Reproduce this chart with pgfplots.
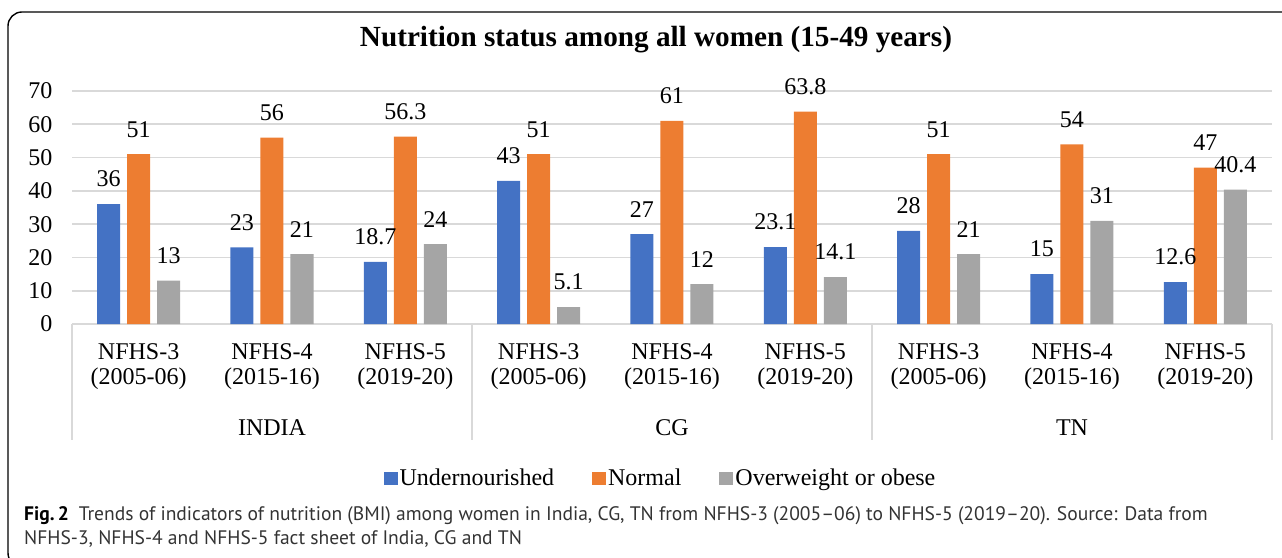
\documentclass[border=0pt]{standalone}
\usepackage{fontspec}
\setmainfont{Liberation Serif}
\newfontfamily\capfont{PT Sans}
\usepackage{pgfplots}
\pgfplotsset{compat=1.18}
\definecolor{cblue}{HTML}{4472C4}
\definecolor{corange}{HTML}{ED7D31}
\definecolor{cgray}{HTML}{A5A5A5}
\definecolor{cgrid}{HTML}{D9D9D9}
\definecolor{captext}{HTML}{333333}
\begin{document}
\begin{tikzpicture}
\useasboundingbox (0,0) rectangle (1282pt,557pt);
\begin{scope}
\clip (0,0) rectangle (1282pt,557pt);
\draw[line width=1.4pt, rounded corners=14pt] (8pt,-10pt) rectangle (1320pt,545pt);
\end{scope}
\node[font=\fontsize{29.2}{33}\selectfont\bfseries] at (656pt,517pt) {Nutrition status among all women (15-49 years)};
\begin{axis}[
  at={(72pt,233pt)}, anchor=south west,
  scale only axis, width=1200pt, height=233pt,
  xmin=-0.5, xmax=8.5, ymin=0, ymax=70,
  ytick={0,10,...,70},
  xtick={0,...,8},
  xticklabels={{NFHS-3\\(2005-06)},{NFHS-4\\(2015-16)},{NFHS-5\\(2019-20)},{NFHS-3\\(2005-06)},{NFHS-4\\(2015-16)},{NFHS-5\\(2019-20)},{NFHS-3\\(2005-06)},{NFHS-4\\(2015-16)},{NFHS-5\\(2019-20)}},
  xticklabel style={align=center, font=\fontsize{24}{25}\selectfont, anchor=north, yshift=-16pt},
  yticklabel style={font=\fontsize{24}{29}\selectfont, anchor=east, xshift=-16pt},
  /pgf/number format/assume math mode=true,
  major tick length=0pt,
  axis line style={draw=none},
  ymajorgrids, grid style={cgrid, line width=1.6pt},
  ybar, bar width=23pt,
  clip=false,
  nodes near coords,
  every node near coord/.append style={font=\fontsize{24}{29}\selectfont, anchor=center, yshift=25pt, inner sep=0pt},
  legend style={draw=none, at={(0.4904,-0.661)}, anchor=center, legend columns=3, font=\fontsize{24}{29}\selectfont, /tikz/every even column/.append style={column sep=36pt}},
  legend image code/.code={\fill[#1] (0pt,-6.5pt) rectangle (14pt,6.5pt);},
]
\addplot[fill=cblue, draw=none, bar shift=-30pt] coordinates {(0,36) (1,23) (2,18.7) (3,43) (4,27) (5,23.1) (6,28) (7,15) (8,12.6)};
\addplot[fill=corange, draw=none, bar shift=0pt] coordinates {(0,51) (1,56) (2,56.3) (3,51) (4,61) (5,63.8) (6,51) (7,54) (8,47)};
\addplot[fill=cgray, draw=none, bar shift=30pt] coordinates {(0,13) (1,21) (2,24) (3,5.1) (4,12) (5,14.1) (6,21) (7,31) (8,40.4)};
\legend{Undernourished, Normal, Overweight or obese}
\draw[cgrid, line width=1.6pt] (axis cs:-0.5,0) -- ([yshift=-116pt]axis cs:-0.5,0);
\draw[cgrid, line width=1.6pt] (axis cs:2.5,0) -- ([yshift=-116pt]axis cs:2.5,0);
\draw[cgrid, line width=1.6pt] (axis cs:5.5,0) -- ([yshift=-116pt]axis cs:5.5,0);
\draw[cgrid, line width=1.6pt] (axis cs:8.5,0) -- ([yshift=-116pt]axis cs:8.5,0);
\node[font=\fontsize{24}{29}\selectfont] at (axis cs:1,0) [yshift=-104pt] {INDIA};
\node[font=\fontsize{24}{29}\selectfont] at (axis cs:4,0) [yshift=-104pt] {CG};
\node[font=\fontsize{24}{29}\selectfont] at (axis cs:7,0) [yshift=-104pt] {TN};
\end{axis}
\node[anchor=north west, align=left, text=captext, inner sep=0pt, font=\capfont\fontsize{19.55}{24.5}\selectfont] at (24pt,51pt)
 {{\color{black}\bfseries Fig.\,2}\enspace Trends of indicators of nutrition (BMI) among women in India, CG, TN from NFHS-3 (2005–06) to NFHS-5 (2019–20). Source: Data from\\
 NFHS-3, NFHS-4 and NFHS-5 fact sheet of India, CG and TN};
\end{tikzpicture}
\end{document}
